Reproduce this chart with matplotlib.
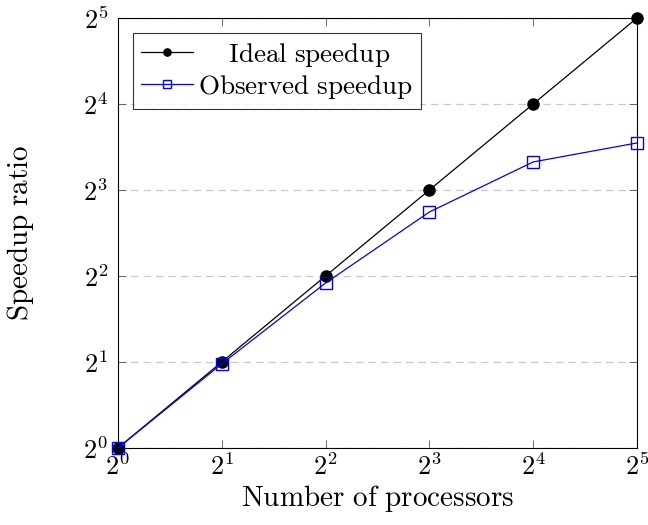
import matplotlib
matplotlib.use("Agg")
import matplotlib.pyplot as plt
from matplotlib.ticker import FixedLocator, NullLocator

plt.rcParams['mathtext.fontset'] = 'cm'
plt.rcParams['font.family'] = 'serif'
plt.rcParams['font.serif'] = ['DejaVu Serif']

processors = [1, 2, 4, 8, 16, 32]
ideal = [1, 2, 4, 8, 16, 32]
observed = [1, 1.97, 3.78, 6.70, 10.03, 11.69]
tick_exps = [0, 1, 2, 3, 4, 5]

fig = plt.figure(figsize=(6.48, 5.25), dpi=100)
ax = fig.add_axes([0.182, 0.1467, 0.801, 0.819])
ax.set_xscale('log', base=2)
ax.set_yscale('log', base=2)
ax.plot(processors, ideal, color='black', lw=0.9, marker='o', ms=8, clip_on=False, zorder=3,
        label=r'$\quad\;\mathrm{Ideal\ speedup}$')
ax.plot(processors, observed, color='blue', lw=0.9, marker='s', ms=8, mfc='none', mew=1.0,
        clip_on=False, zorder=4, label=r'$\mathrm{Observed\ speedup}$')
ax.set_xlim(1, 32)
ax.set_ylim(1, 32)
ticks = [2 ** e for e in tick_exps]
labels = [r'$2^{%d}$' % e for e in tick_exps]
ax.xaxis.set_major_locator(FixedLocator(ticks))
ax.yaxis.set_major_locator(FixedLocator(ticks))
ax.set_xticklabels(labels)
ax.set_yticklabels(labels)
ax.xaxis.set_minor_locator(NullLocator())
ax.yaxis.set_minor_locator(NullLocator())
ax.tick_params(direction='in', top=True, right=True, length=6, width=0.6, color='#555555',
               labelsize=19, pad=4)
ax.tick_params(axis='y', pad=7)
ax.grid(axis='y', linestyle=(0, (6, 4)), color='#c8c8c8', lw=0.9)
ax.set_axisbelow(True)
for s in ax.spines.values():
    s.set_linewidth(0.8)
ax.set_xlabel(r'$\mathrm{Number\ of\ processors}$', fontsize=21, labelpad=2)
ax.set_ylabel(r'$\mathrm{Speedup\ ratio}$', fontsize=21, labelpad=34)
leg = ax.legend(loc='upper left', bbox_to_anchor=(0.014, 0.985), fontsize=19.5, frameon=True,
                fancybox=False, edgecolor='black', borderpad=0.3, handlelength=1.9,
                handletextpad=0.2, labelspacing=0.15, borderaxespad=0.3, markerscale=0.65)
leg.get_frame().set_linewidth(0.8)
fig.savefig('out.png', dpi=100)
